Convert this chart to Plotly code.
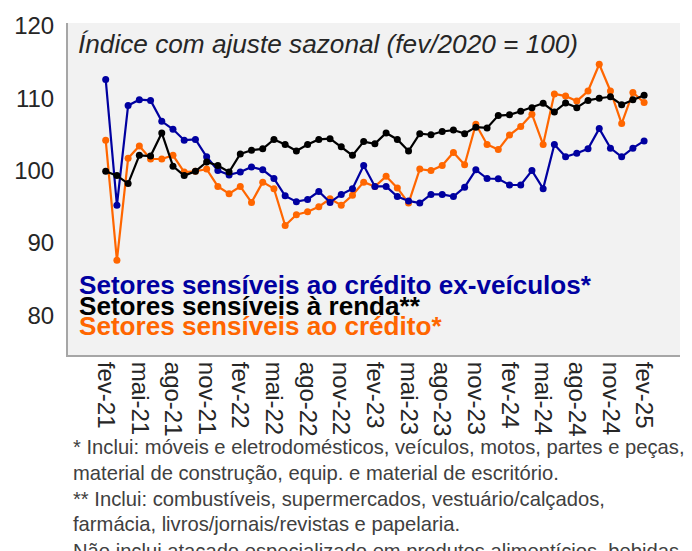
import plotly.graph_objects as go

# ---- data ----
meses = ["jan", "fev", "mar", "abr", "mai", "jun", "jul", "ago", "set", "out", "nov", "dez"]
months = []
for k in range(49):
    m = (1 + k) % 12
    y = 21 + (1 + k) // 12
    months.append(f"{meses[m]}-{y}")

tick_labels = ["fev-21", "mai-21", "ago-21", "nov-21", "fev-22", "mai-22", "ago-22", "nov-22",
               "fev-23", "mai-23", "ago-23", "nov-23", "fev-24", "mai-24", "ago-24", "nov-24", "fev-25"]

credito_ex_veiculos = [112.6, 95.2, 109.0, 109.8, 109.7, 106.8, 105.7, 104.2, 104.3, 101.9,
                       100.0, 99.4, 99.8, 100.5, 100.1, 98.9, 96.5, 95.7, 96.0, 97.1,
                       95.6, 96.7, 97.5, 100.7, 97.8, 97.8, 96.4, 95.8, 95.5, 96.7,
                       96.7, 96.4, 97.7, 100.1, 98.9, 98.85, 98.0, 98.0, 100.0, 97.5,
                       103.6, 101.9, 102.4, 103.0, 105.8, 103.1, 101.9, 103.1, 104.1]

renda = [99.9, 99.3, 98.2, 102.1, 102.0, 105.2, 100.6, 99.3, 99.9, 101.2,
         100.7, 99.8, 102.3, 102.8, 103.0, 104.3, 103.6, 102.7, 103.6, 104.3,
         104.4, 103.3, 102.1, 104.0, 103.7, 105.2, 104.3, 102.7, 105.1, 104.95,
         105.4, 105.6, 105.1, 106.0, 105.9, 107.6, 107.7, 108.2, 108.7, 109.3,
         108.1, 109.35, 108.7, 109.7, 110.0, 110.2, 109.1, 109.8, 110.4]

credito = [104.2, 87.6, 101.7, 103.4, 101.6, 101.6, 102.1, 99.8, 99.9, 100.2,
           97.8, 96.8, 97.8, 95.6, 98.4, 97.5, 92.4, 93.9, 94.3, 95.0,
           96.1, 95.2, 96.6, 98.4, 97.8, 99.2, 97.6, 95.5, 100.2, 100.0,
           100.7, 102.5, 100.8, 106.4, 103.6, 102.9, 104.9, 106.1, 107.8, 103.6,
           110.6, 110.3, 109.6, 111.0, 114.7, 111.0, 106.5, 110.8, 109.4]

series_names = ["Setores sensíveis ao crédito ex-veículos*",
                "Setores sensíveis à renda**",
                "Setores sensíveis ao crédito*"]
colors = ["#0000a0", "#000000", "#ff6600"]

footnotes = ["* Inclui: móveis e eletrodomésticos, veículos, motos, partes e peças,",
             "material de construção, equip. e material de escritório.",
             "** Inclui: combustíveis, supermercados, vestuário/calçados,",
             "farmácia, livros/jornais/revistas e papelaria.",
             "Não inclui atacado especializado em produtos alimentícios, bebidas e fumo."]

title_text = "Índice com ajuste sazonal (fev/2020 = 100)"

FONT = "Liberation Sans, Arial, sans-serif"

fig = go.Figure()
for name, vals, col in [(series_names[2], credito, colors[2]),
                        (series_names[0], credito_ex_veiculos, colors[0]),
                        (series_names[1], renda, colors[1])]:
    fig.add_trace(go.Scatter(x=months, y=vals, mode="lines+markers", name=name,
                             line=dict(color=col, width=2.2),
                             marker=dict(color=col, size=7),
                             showlegend=False))

# page offset of the figure (body margin)
OFF = 8
W, H = 692, 551
# desired plot box in page pixels
PL, PR, PT, PB = 68, 680, 23, 355
L = PL - OFF
T = PT - OFF
R = W - (PR - OFF)
B = H - (PB - OFF)

fig.update_layout(
    width=W, height=H,
    margin=dict(l=L, r=R, t=T, b=B, autoexpand=False),
    paper_bgcolor="white",
    plot_bgcolor="#f2f2f2",
    font=dict(family=FONT, color="#404040"),
    xaxis=dict(type="category", range=[-3.36, 51.2], tickmode="array",
               tickvals=tick_labels, ticktext=tick_labels, tickangle=90,
               tickfont=dict(size=24, color="#262626"),
               showgrid=False, zeroline=False,
               showline=True, linecolor="#a6a6a6", linewidth=2,
               ticks="", automargin=False),
    yaxis=dict(range=[74.5, 120.4], tickvals=[80, 90, 100, 110, 120],
               tickfont=dict(size=24, color="#262626"),
               showgrid=False, zeroline=False,
               showline=True, linecolor="#a6a6a6", linewidth=2,
               ticks="outside", ticklen=7, tickcolor="rgba(0,0,0,0)", automargin=False),
)

ph = PB - PT
pw = PR - PL

def ypaper(py):
    return (PB - py) / ph

def xpaper(px):
    return (px - PL) / pw

# title inside plot
fig.add_annotation(text=f"<i>{title_text}</i>", xref="paper", yref="paper",
                   x=xpaper(76), y=ypaper(44), xanchor="left", yanchor="middle",
                   showarrow=False, font=dict(size=26.2, color="#262626", family=FONT))

# legend-like labels
for name, col, py in zip(series_names, colors, [285, 305.5, 326]):
    fig.add_annotation(text=f"<b>{name}</b>", xref="paper", yref="paper",
                       x=xpaper(77), y=ypaper(py), xanchor="left", yanchor="middle",
                       showarrow=False, font=dict(size=26.1, color=col, family=FONT))

# footnotes
for txt, py in zip(footnotes, [446.5, 472.5, 498.5, 523.5, 551]):
    fig.add_annotation(text=txt, xref="paper", yref="paper",
                       x=xpaper(71), y=ypaper(py), xanchor="left", yanchor="middle",
                       showarrow=False, font=dict(size=20.2, color="#404040", family=FONT))

fig.write_html("out.html")
